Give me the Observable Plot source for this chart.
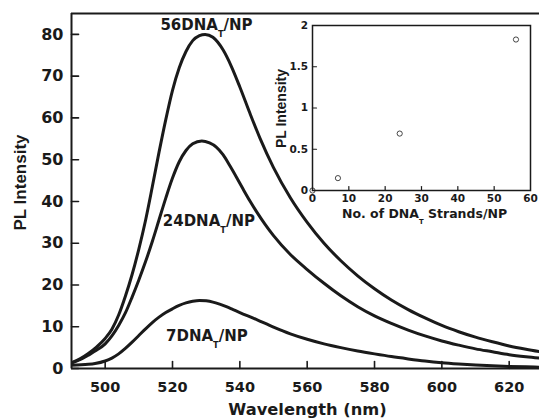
<!DOCTYPE html>
<html><head><meta charset="utf-8">
<script src="https://cdn.jsdelivr.net/npm/d3@7"></script>
<script src="https://cdn.jsdelivr.net/npm/@observablehq/plot@0.6"></script>
<style>
body{margin:0;background:#fff;}
#chart{position:relative;width:539px;height:420px;}
#chart svg{display:block;}
#inset{position:absolute;left:270px;top:10px;}
</style>
</head><body><div id="chart"><div id="main"></div><div id="inset"></div></div>
<script>
// ---- main spectra (wavelength nm, PL intensity) ----
const wl56 = [490,492.5,495,497.5,500,502,504,506,508,510,512,514,516,518,520,522,524,526,528,529.7,532,535,537.5,540,543,546,550,555,560,565,570,575,580,585,590,595,600,605,610,615,620,625,630];
const pl56 = [1.4,2.3,3.6,5.2,7.2,9.4,12.8,17.3,22.5,28.6,35.5,43.5,51.8,59.6,66.6,72,75.9,78.5,79.7,80,79.3,76.3,72.3,67.4,61.1,55.1,48.1,40.9,35,30,25.8,22.2,19.1,16.4,14.1,12.1,10.3,8.8,7.5,6.4,5.4,4.6,3.9];
const wl24 = [490,492.5,495,497.5,500,502,504,506,508,510,512,514,516,518,520,522,524,526,528.7,531,533,535,537,539,541,543,545,547.5,550,555,560,565,570,575,580,585,590,595,600,605,610,615,620,625,630];
const pl24 = [1.3,2.1,3.2,4.4,5.9,7.8,10.3,13.3,17.1,21.2,25.6,30.4,35.6,40.8,45.6,49.5,52.2,53.8,54.5,54.0,53.0,51.2,48.6,45.8,42.9,40.1,37.5,34.5,31.8,27.3,23.7,20.4,17.4,14.8,12.6,10.8,9.2,7.8,6.6,5.6,4.7,4.0,3.3,2.8,2.4];
const wl7 = [490,495,497,500,502,504,506,508,510,512,514,516,518,520,522,524,526,528,530,532,534,536,538,540,545,550,555,560,565,570,575,580,585,590,595,600,605,610,615,620,625,630];
const pl7 = [0.8,1.0,1.2,1.8,2.5,3.5,4.8,6.3,7.9,9.5,11,12.3,13.4,14.3,15.1,15.7,16.1,16.3,16.2,15.9,15.4,14.8,14.1,13.4,11.7,9.9,8.3,7.0,5.9,5.0,4.2,3.5,2.85,2.3,1.8,1.4,1.1,0.85,0.65,0.5,0.4,0.3];

const seriesLabels = ["56DNA_T/NP", "24DNA_T/NP", "7DNA_T/NP"];
const labelX = [530.1, 530.8, 530.2];
const labelY = [82.1, 35.3, 7.8];

const xDomain = [490, 629];
const yDomain = [0, 85];
const xTicks = [500, 520, 540, 560, 580, 600, 620];
const yTicks = [0, 10, 20, 30, 40, 50, 60, 70, 80];

// ---- inset (strands per NP vs PL intensity) ----
const strands = [0, 7, 24, 56];
const insetPL = [0, 0.15, 0.69, 1.83];
const insetXDomain = [0, 60];
const insetYDomain = [0, 2];
const insetXTicks = [0, 10, 20, 30, 40, 50, 60];
const insetYTicks = [0, 0.5, 1, 1.5, 2];

const ink = "#1a1a1a";
const H = "DejaVu Sans";
const R = "Liberation Sans";

const toRows = (xs, ys, name) => xs.map((x, i) => ({x, y: ys[i], name}));
const spectra = [...toRows(wl56, pl56, "56"), ...toRows(wl24, pl24, "24"), ...toRows(wl7, pl7, "7")];
const labels = seriesLabels.map((t, i) => ({t, x: labelX[i], y: labelY[i]}));
const pts = strands.map((s, i) => ({s, v: insetPL[i]}));

const tickShape = {draw(context, l) { context.moveTo(0, 0); context.lineTo(0, -l); }};

const main = Plot.plot({
  width: 539, height: 420,
  marginLeft: 71, marginRight: 0, marginTop: 13, marginBottom: 52,
  style: {background: "transparent", color: ink},
  x: {domain: xDomain},
  y: {domain: yDomain},
  marks: [
    Plot.line(spectra, {x: "x", y: "y", z: "name", stroke: ink, strokeWidth: 3, curve: "monotone-x", clip: true}),
    Plot.ruleX([xDomain[0]], {stroke: ink, strokeWidth: 2}),
    Plot.ruleY([yDomain[0]], {stroke: ink, strokeWidth: 2}),
    Plot.ruleY([yDomain[1]], {stroke: ink, strokeWidth: 2}),
    Plot.vector(yTicks, {y: d => d, frameAnchor: "left", rotate: 90, length: 7, anchor: "start", shape: tickShape, stroke: ink, strokeWidth: 1.6}),
    Plot.vector(xTicks, {x: d => d, frameAnchor: "bottom", rotate: 0, length: 7, anchor: "start", shape: tickShape, stroke: ink, strokeWidth: 1.6}),
    Plot.axisY(yTicks, {tickSize: 0, tickPadding: 8, fontSize: 16, fontWeight: "bold", fontFamily: H, fill: ink, label: null, tickFormat: d => String(d)}),
    Plot.axisX(xTicks, {tickSize: 0, tickPadding: 13, fontSize: 14.5, fontWeight: "bold", fontFamily: H, fill: ink, label: null, tickFormat: d => String(d)}),
    Plot.text(labels, {x: "x", y: "y", text: "t", fontSize: 15, fontWeight: "bold", fontFamily: H, fill: ink}),
    Plot.text(["PL Intensity"], {frameAnchor: "left", textAnchor: "middle", lineAnchor: "middle", dx: -51.3, dy: -8.5, rotate: -90, fontSize: 17, fontWeight: "bold", fontFamily: R, fill: ink}),
    Plot.text(["Wavelength (nm)"], {frameAnchor: "bottom", textAnchor: "middle", lineAnchor: "middle", dx: 2, dy: 40.8, fontSize: 16.3, fontWeight: "bold", fontFamily: H, fill: ink})
  ]
});

const inset = Plot.plot({
  width: 269, height: 220,
  marginLeft: 42, marginRight: 9, marginTop: 15, marginBottom: 40,
  style: {background: "transparent", color: ink},
  x: {domain: insetXDomain},
  y: {domain: insetYDomain},
  marks: [
    Plot.dot(pts, {x: "s", y: "v", r: 2.6, stroke: ink, strokeWidth: 0.8, fill: "none"}),
    Plot.frame({stroke: ink, strokeWidth: 1.5}),
    Plot.vector(insetYTicks.slice(1, -1), {y: d => d, frameAnchor: "left", rotate: 90, length: 4, anchor: "start", shape: tickShape, stroke: ink, strokeWidth: 1.2}),
    Plot.vector(insetXTicks.slice(1, -1), {x: d => d, frameAnchor: "bottom", rotate: 0, length: 4, anchor: "start", shape: tickShape, stroke: ink, strokeWidth: 1.2}),
    Plot.axisY(insetYTicks, {tickSize: 0, tickPadding: 4.5, fontSize: 10.5, fontWeight: "bold", fontFamily: H, fill: ink, label: null, tickFormat: d => String(d)}),
    Plot.axisX(insetXTicks, {tickSize: 0, tickPadding: 4, fontSize: 10.5, fontWeight: "bold", fontFamily: H, fill: ink, label: null, tickFormat: d => String(d)}),
    Plot.text(["PL Intensity"], {frameAnchor: "left", textAnchor: "middle", lineAnchor: "middle", dx: -30.5, dy: 0.5, rotate: -90, fontSize: 14, fontWeight: "bold", fontFamily: R, fill: ink}),
    Plot.text(["No. of DNA_T Strands/NP"], {frameAnchor: "bottom", textAnchor: "middle", lineAnchor: "middle", dx: 3, dy: 23.7, fontSize: 12.5, fontWeight: "bold", fontFamily: H, fill: ink})
  ]
});

function subscriptT(svg) {
  const ns = "http://www.w3.org/2000/svg";
  svg.querySelectorAll("text").forEach(t => {
    const s = t.textContent;
    if (!s.includes("_T")) return;
    const fs = parseFloat(t.closest("[font-size]").getAttribute("font-size")) || 15;
    const [a, b] = s.split("_T");
    while (t.firstChild) t.removeChild(t.firstChild);
    const t1 = document.createElementNS(ns, "tspan"); t1.textContent = a;
    const t2 = document.createElementNS(ns, "tspan"); t2.textContent = "T";
    const d = fs * 0.46;
    t2.setAttribute("dy", d); t2.setAttribute("font-size", fs * 0.55);
    const t3 = document.createElementNS(ns, "tspan"); t3.textContent = b;
    t3.setAttribute("dy", -d);
    t.append(t1, t2, t3);
  });
}
subscriptT(main);
subscriptT(inset);

document.getElementById("main").append(main);
document.getElementById("inset").append(inset);
</script>
</body></html>
